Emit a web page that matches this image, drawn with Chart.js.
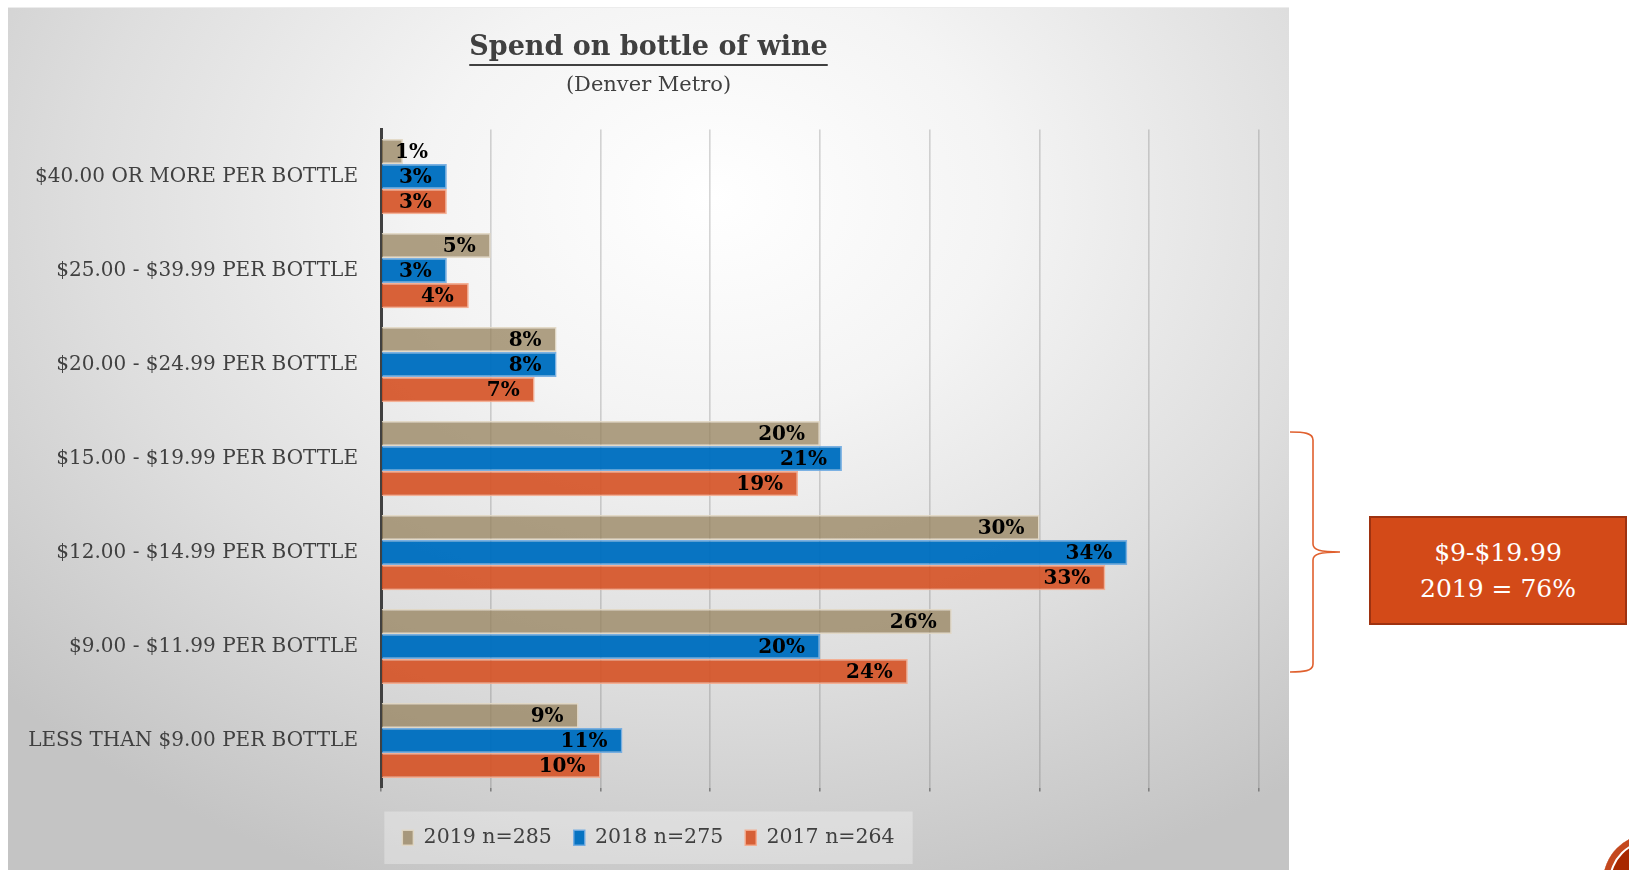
<!DOCTYPE html>
<html>
<head>
<meta charset="utf-8">
<title>Spend on bottle of wine</title>
<script src="https://cdn.jsdelivr.net/npm/chart.js@4.4.1/dist/chart.umd.min.js"></script>
<style>
    html, body { margin: 0; padding: 0; background: #fff; overflow: hidden; }
    body { width: 1629px; height: 870px; position: relative; font-family: 'DejaVu Serif', serif; }
    #panel {
        position: absolute; left: 8px; top: 7px; width: 1281px; height: 863px;
        background: radial-gradient(ellipse 75% 85% at 55% 22%, #ffffff 0%, #f4f4f4 30%, #dedede 65%, #c4c4c4 100%);
        border-top: 1px solid #ececec;
    }
    #panel canvas { position: absolute; left: 0; top: 0; }
    #brace { position: absolute; left: 1284px; top: 426px; }
    #callout {
        position: absolute; left: 1369px; top: 516px; width: 254px; height: 105px;
        background: #d34a18; border: 2px solid #9e3210; box-sizing: content-box;
        color: #fff; font-size: 25px; line-height: 36px; text-align: center;
        display: flex; flex-direction: column; justify-content: center;
    }
    #logo {
        position: absolute; left: 1603px; top: 834px; width: 96px; height: 96px; border-radius: 50%;
        background: #a82800; box-shadow: inset 0 0 0 6px #c4481e, inset 0 0 0 8px #fff;
    }
</style>
</head>
<body>
<div id="panel"><canvas id="wineChart" width="1281" height="863"></canvas></div>

<svg id="brace" width="60" height="252" viewBox="0 0 60 252">
    <path d="M6 6 C20 6 29 7 29 14 L29 118 C29 124 36 126 56 126 C36 126 29 128 29 134 L29 238 C29 245 20 246 6 246"
          fill="none" stroke="#e0602e" stroke-width="1.6"/>
</svg>
<div id="callout"><div>$9-$19.99</div><div>2019 = 76%</div></div>
<div id="logo"></div>

<script>
    // ---- Data ----
    var categories = [
        '$40.00 OR MORE PER BOTTLE',
        '$25.00 - $39.99 PER BOTTLE',
        '$20.00 - $24.99 PER BOTTLE',
        '$15.00 - $19.99 PER BOTTLE',
        '$12.00 - $14.99 PER BOTTLE',
        '$9.00 - $11.99 PER BOTTLE',
        'LESS THAN $9.00 PER BOTTLE'
    ];
    var seriesNames = ['2019 n=285', '2018 n=275', '2017 n=264'];
    var values2019 = [1, 5, 8, 20, 30, 26, 9];
    var values2018 = [3, 3, 8, 21, 34, 20, 11];
    var values2017 = [3, 4, 7, 19, 33, 24, 10];
    var axisMax = 40;
    var axisStep = 5;

    var fontFamily = "'DejaVu Serif', serif";
    var textGray = '#404040';
    var titleSize = 27;

    // title, subtitle and legend centred on the whole canvas, not the padded box
    var centerBoxes = {
        id: 'centerBoxes',
        afterLayout: function (chart) {
            chart.boxes.forEach(function (box) {
                if (box.fullSize && (box.position === 'top' || box.position === 'bottom')) {
                    box.left = 0;
                    box.right = chart.width;
                    box.width = chart.width;
                }
            });
        }
    };

    // value labels at the inner end of each bar
    var barLabels = {
        id: 'barLabels',
        afterDatasetsDraw: function (chart) {
            var ctx = chart.ctx;
            var base = chart.scales.x.getPixelForValue(0);
            ctx.save();
            ctx.font = 'bold 20px ' + fontFamily;
            ctx.fillStyle = '#000';
            ctx.textAlign = 'right';
            ctx.textBaseline = 'middle';
            chart.data.datasets.forEach(function (ds, i) {
                chart.getDatasetMeta(i).data.forEach(function (bar, j) {
                    var txt = ds.data[j] + '%';
                    var w = ctx.measureText(txt).width;
                    var x = Math.max(bar.x - 15, base + 14 + w);
                    ctx.fillText(txt, x, bar.y + 1);
                });
            });
            ctx.restore();
        }
    };

    // underline under the title, faint backing behind the legend
    var decorations = {
        id: 'decorations',
        beforeDraw: function (chart) {
            var boxes = chart.legend.legendHitBoxes;
            if (!boxes || !boxes.length) return;
            var x0 = boxes[0].left - 18;
            var last = boxes[boxes.length - 1];
            var x1 = last.left + last.width + 18;
            var y0 = boxes[0].top - 16;
            var ctx = chart.ctx;
            ctx.save();
            ctx.fillStyle = 'rgba(255,255,255,0.3)';
            ctx.fillRect(x0, y0, x1 - x0, boxes[0].height + 32);
            ctx.restore();
        },
        afterDraw: function (chart) {
            var t = chart.titleBlock;
            var ctx = chart.ctx;
            ctx.save();
            ctx.font = 'bold ' + titleSize + 'px ' + fontFamily;
            var w = ctx.measureText(chart.options.plugins.title.text).width;
            var cx = (t.left + t.right) / 2;
            var y = t.top + chart.options.plugins.title.padding.top + 33;
            ctx.strokeStyle = textGray;
            ctx.lineWidth = 2;
            ctx.beginPath();
            ctx.moveTo(cx - w / 2, y);
            ctx.lineTo(cx + w / 2, y);
            ctx.stroke();
            ctx.restore();
        }
    };

    new Chart(document.getElementById('wineChart'), {
        type: 'bar',
        data: {
            labels: categories,
            datasets: [{
                label: seriesNames[0],
                data: values2019,
                backgroundColor: 'rgba(150, 130, 92, 0.75)',
                borderColor: 'rgba(225, 215, 195, 0.9)',
                borderWidth: 1.5
            }, {
                label: seriesNames[1],
                data: values2018,
                backgroundColor: 'rgba(0, 112, 192, 0.97)',
                borderColor: 'rgba(110, 170, 225, 0.9)',
                borderWidth: 1.5
            }, {
                label: seriesNames[2],
                data: values2017,
                backgroundColor: 'rgba(213, 81, 36, 0.9)',
                borderColor: 'rgba(245, 170, 140, 0.9)',
                borderWidth: 1.5
            }]
        },
        options: {
            indexAxis: 'y',
            responsive: false,
            animation: false,
            events: [],
            categoryPercentage: 0.8,
            barPercentage: 1.0,
            layout: { padding: { left: 0, right: 30, top: 0, bottom: 13 } },
            plugins: {
                title: {
                    display: true,
                    text: 'Spend on bottle of wine',
                    color: textGray,
                    font: { family: fontFamily, size: titleSize, weight: 'bold' },
                    padding: { top: 24, bottom: 4 }
                },
                subtitle: {
                    display: true,
                    text: '(Denver Metro)',
                    color: textGray,
                    font: { family: fontFamily, size: 21 },
                    padding: { top: 5, bottom: 31 }
                },
                legend: {
                    position: 'bottom',
                    labels: {
                        color: textGray,
                        font: { family: fontFamily, size: 20.5 },
                        boxWidth: 11,
                        boxHeight: 15,
                        padding: 22
                    }
                },
                tooltip: { enabled: false }
            },
            scales: {
                x: {
                    min: 0,
                    max: axisMax,
                    afterFit: function (scale) { scale.height = 18; },
                    ticks: { display: false, stepSize: axisStep },
                    grid: {
                        color: 'rgba(90, 90, 90, 0.25)',
                        lineWidth: 1.6,
                        drawTicks: true,
                        tickLength: 4,
                        tickColor: '#808080'
                    },
                    border: { display: false }
                },
                y: {
                    afterFit: function (scale) { scale.width = 373; },
                    ticks: {
                        color: textGray,
                        font: { family: fontFamily, size: 20 },
                        padding: 23
                    },
                    grid: { display: false, drawTicks: false },
                    border: { display: true, color: '#404040', width: 3 }
                }
            }
        },
        plugins: [centerBoxes, barLabels, decorations]
    });
</script>
</body>
</html>
